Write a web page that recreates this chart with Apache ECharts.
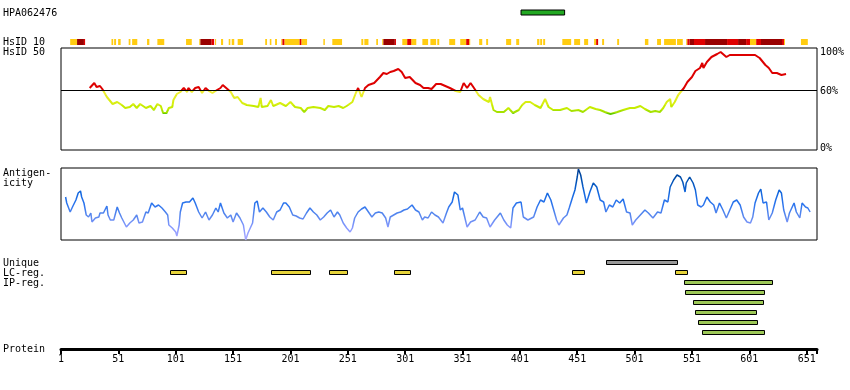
<!DOCTYPE html>
<html><head><meta charset="utf-8">
<script src="https://cdn.jsdelivr.net/npm/echarts@6/dist/echarts.min.js"></script>
<style>html,body{margin:0;padding:0;background:#fff}#c{width:850px;height:390px}</style>
</head><body><div id="c"></div>
<script>
// ---------------- data ----------------
const proteinStart = 1;
const proteinEnd = 660;
const tickLabels = [1, 51, 101, 151, 201, 251, 301, 351, 401, 451, 501, 551, 601, 651];

const antigenName = 'HPA062476';
const antigenRegion = [[402, 440]];

// HsID 10 band segments [start, end]
const hsid10Yellow = [[9,15],[45,46.5],[47.3,49],[50.8,53],[60,61.5],[63,67.5],[76,78],[85,91],[110,115],
  [121.5,122.5],[135.3,136.2],[140.5,142.3],[147.2,148.6],[149.8,152],[155,159.7],[179,180.6],[183,184.4],
  [187.6,189.3],[193,194],[195.7,209],[210.5,215.5],[229.7,231],[237.5,246],[262.8,264.5],[265.4,269],
  [275.8,277.3],[281,282],[298.5,302.8],[306.3,310.7],[316,321],[323,328],[329,330.7],[339.4,344.6],
  [349,354.2],[356.8,357.7],[365.5,368.2],[371.6,373.3],[389,393.4],[397.8,400.4],[416,418],[418.7,420.4],
  [421.3,423],[438,445.7],[448.3,453.5],[457,460.5],[465.7,467.5],[472.7,474.4],[485.8,487.5],[510,513],
  [520.6,524],[526.7,537],[538,543],[546,547],[601.6,607],[631.2,632],[646,652]];
const hsid10Red = [[21,22],[132,134.5],[194,195.7],[209,210.5],[292,293],[302.8,306.3],[354.2,356.8],
  [467.5,469.2],[547,549],[552.8,562.4],[581.6,591.2],[598.2,601.6],[607,611.2],[629.5,631.2]];
const hsid10DarkRed = [[15,21],[122.5,132],[282,292],[549,552.8],[562.4,581.6],[591.2,598.2],[611.2,629.5]];

// HsID 50 identity (%) by residue
const hsid50 = [[26,62],[30,67],[32,63],[35,64],[37,61],[41,53],[46,46],[50,48],[54,45],[57,42],[61,43],[64,46],
  [67,42],[70,46],[75,42],[79,44],[82,40],[85,46],[88,44],[90,37],[93,37],[95,42],[98,43],[99,50],[102,56],
  [105,58],[108,62],[111,58],[112,62],[115,58],[118,62],[121,63],[124,57],[127,62],[130,59],[133,57],[137,60],
  [140,62],[142,65],[145,62],[149,58],[152,52],[155,53],[159,47],[163,45],[169,44],[173,43],[175,52],[176,43],
  [181,44],[184,50],[186,44],[192,47],[197,44],[201,48],[205,43],[210,42],[213,38],[216,42],[221,43],[227,42],
  [231,40],[234,44],[239,43],[243,44],[247,42],[250,44],[255,48],[258,57],[260,62],[263,53],[266,62],[269,65],
  [274,67],[279,73],[282,77],[285,76],[288,78],[291,79],[295,81],[298,78],[301,72],[305,73],[310,67],[314,65],
  [317,62],[321,62],[324,61],[328,66],[332,66],[336,64],[340,62],[345,59],[349,58],[352,67],[355,62],[358,67],
  [361,62],[365,55],[369,51],[374,48],[375,53],[378,40],[381,38],[387,38],[391,42],[395,37],[400,40],[403,45],
  [406,48],[410,48],[414,45],[419,42],[423,51],[426,43],[430,40],[436,40],[442,42],[446,39],[452,40],[456,38],
  [462,43],[467,41],[471,40],[475,38],[480,36],[486,38],[491,40],[497,42],[501,42],[506,44],[510,41],[515,38],
  [519,39],[523,38],[526,42],[529,48],[532,51],[533,43],[536,48],[539,55],[544,62],[547,68],[551,73],[554,79],
  [558,82],[560,87],[561,82],[564,88],[568,93],[573,96],[576,98],[578,96],[581,93],[584,95],[590,95],[606,95],
  [610,92],[615,85],[618,82],[621,77],[625,77],[629,75],[633,76]];

// Antigenicity by residue
const antigenicity = [[5,43],[6,37],[9,28],[11,33],[14,40],[16,47],[18,49],[19,43],[21,37],[23,25],[25,23],[27,27],
  [28,18],[31,22],[34,23],[35,27],[38,27],[41,34],[42,25],[44,20],[47,20],[50,33],[52,27],[54,22],[58,13],[61,17],
  [64,20],[67,25],[69,17],[72,18],[75,28],[77,27],[80,37],[83,33],[86,35],[89,32],[92,28],[94,25],[95,15],[98,12],
  [101,8],[102,4],[104,15],[105,28],[107,37],[110,38],[113,38],[116,42],[118,37],[121,28],[124,22],[127,28],
  [130,20],[133,25],[136,32],[138,28],[140,37],[143,27],[146,22],[149,25],[151,18],[154,27],[157,22],[160,15],
  [162,0],[164,7],[166,12],[168,17],[170,37],[172,39],[174,28],[177,32],[180,28],[183,23],[186,20],[189,28],
  [192,30],[195,37],[197,37],[200,33],[203,25],[206,24],[209,22],[212,21],[215,27],[218,32],[221,28],[224,25],
  [227,20],[230,23],[233,27],[236,30],[239,23],[242,28],[244,25],[247,17],[250,12],[253,8],[255,12],[257,22],
  [260,28],[263,31],[266,33],[269,28],[272,23],[275,27],[278,28],[281,27],[284,22],[286,13],[288,23],[291,25],
  [294,27],[297,28],[300,30],[303,31],[307,35],[310,30],[313,28],[316,20],[318,23],[321,22],[324,28],[327,25],
  [330,23],[334,17],[337,27],[339,33],[342,38],[344,48],[347,45],[349,30],[351,32],[355,13],[358,18],[362,20],
  [366,28],[369,23],[372,22],[375,13],[379,20],[384,27],[387,20],[390,15],[393,12],[395,32],[398,37],[402,38],
  [404,23],[408,20],[413,23],[416,33],[419,40],[422,38],[425,47],[428,40],[430,32],[433,20],[435,15],[439,22],
  [442,25],[444,32],[447,43],[449,50],[451,63],[452,71],[454,65],[456,53],[459,37],[462,48],[465,57],[468,53],
  [471,40],[474,38],[476,28],[479,35],[482,33],[485,40],[488,37],[491,41],[494,28],[497,27],[499,15],[502,20],
  [506,25],[510,30],[513,27],[517,22],[521,28],[524,27],[527,40],[530,38],[532,53],[535,60],[538,65],[541,63],
  [543,58],[545,48],[546,57],[549,63],[552,57],[554,50],[556,35],[559,33],[561,35],[564,43],[567,38],[570,35],
  [572,27],[575,37],[578,30],[581,22],[584,30],[587,38],[590,40],[593,35],[596,23],[599,18],[602,17],[604,23],
  [606,37],[609,47],[611,51],[613,37],[616,38],[618,20],[621,27],[624,40],[627,50],[629,47],[631,30],[634,18],
  [636,27],[640,37],[642,28],[645,22],[647,37],[650,33],[652,32],[654,28]];

// Region tracks [start, end]
const uniqueRegions = [[476, 538]];
const lcRegions = [[96,110],[184,218],[235,250],[291,305],[446,457],[536,547]];
const ipRegions = [[544,621],[545,614],[552,613],[554,607],[556,608],[560,614]];

// ---------------- chart ----------------
const FONT = '10px "DejaVu Sans Mono", monospace';
const L = 61, W = 756;

function bandRender(stroke) {
  return function (params, api) {
    const a = api.coord([api.value(0), 1]);
    const b = api.coord([api.value(1), 0]);
    return { type: 'rect',
      shape: { x: a[0], y: a[1], width: Math.max(b[0] - a[0], 1), height: b[1] - a[1] },
      style: { fill: api.visual('color'), stroke: stroke || null, lineWidth: stroke ? 1 : 0 } };
  };
}
function trackRender(params, api) {
  const row = api.value(2);
  const a = api.coord([api.value(0), row]);
  const b = api.coord([api.value(1), row + 0.5]);
  const x0 = Math.round(a[0]) + 0.5, x1 = Math.round(b[0]) + 0.5;
  return { type: 'rect',
    shape: { x: x0, y: Math.round(a[1]) + 0.5, width: x1 - x0, height: Math.round(b[1] - a[1]) - 1 },
    style: { fill: api.visual('color'), stroke: '#000', lineWidth: 1 } };
}

const trackData = [];
const uniqueData = uniqueRegions.map(r => [r[0], r[1], 0]);
const lcData = lcRegions.map(r => [r[0], r[1], 1]);
const ipData = ipRegions.map((r, i) => [r[0], r[1], 2 + i]);

const xBase = { type: 'value', min: proteinStart, max: proteinEnd, show: false };

const grids = [
  { left: L, width: W, top: 10, height: 5 },        // 0 antigen bar
  { left: L, width: W, top: 39, height: 6 },        // 1 HsID 10 band
  { left: L, width: W, top: 48, height: 102, show: true, borderColor: '#000', borderWidth: 1 }, // 2 HsID 50
  { left: L, width: W, top: 168, height: 72, show: true, borderColor: '#000', borderWidth: 1 }, // 3 antigenicity
  { left: L, width: W, top: 260, height: 80 },      // 4 tracks
  { left: L, width: W, top: 340, height: 9 }        // 5 protein axis
];

const xAxes = [0,1,2,3,4].map(i => Object.assign({ gridIndex: i }, xBase));
xAxes.push({
  gridIndex: 5, type: 'value', min: proteinStart, max: proteinEnd, interval: 50,
  axisLine: { show: true, onZero: false, lineStyle: { color: '#000', width: 3 } },
  axisTick: { show: true, length: 5, lineStyle: { color: '#000', width: 2 } },
  splitLine: { show: false },
  axisLabel: { show: true, margin: 5, color: '#000', fontFamily: '"DejaVu Sans Mono", monospace', fontSize: 10,
    formatter: v => tickLabels.indexOf(v) >= 0 ? String(v) : '' }
});

const yAxes = [
  { gridIndex: 0, type: 'value', min: 0, max: 1, show: false },
  { gridIndex: 1, type: 'value', min: 0, max: 1, show: false },
  { gridIndex: 2, type: 'value', min: 0, max: 102, show: false },
  { gridIndex: 3, type: 'value', min: 0, max: 72, show: false },
  { gridIndex: 4, type: 'value', min: 0, max: 8, inverse: true, show: false },
  { gridIndex: 5, type: 'value', min: 0, max: 1, show: false }
];

function txt(t, x, y) {
  return { type: 'text', x: x, y: y, silent: true,
    style: { text: t, font: FONT, fill: '#000', verticalAlign: 'middle', align: 'left' } };
}

const option = {
  animation: false,
  backgroundColor: '#fff',
  grid: grids,
  xAxis: xAxes,
  yAxis: yAxes,
  visualMap: [
    { type: 'piecewise', show: false, seriesIndex: 4, dimension: 1,
      pieces: [
        { gt: 60, color: '#dd0000' },
        { gt: 55, lte: 60, color: '#eeee33' },
        { gt: 50, lte: 55, color: '#e4ee22' },
        { gt: 45, lte: 50, color: '#d8ee11' },
        { gt: 40, lte: 45, color: '#c6ec00' },
        { gt: 37, lte: 40, color: '#a6e200' },
        { lte: 37, color: '#66cc00' }
      ] },
    { type: 'continuous', show: false, seriesIndex: 5, dimension: 1, min: 0, max: 72,
      inRange: { color: ['#aaaaff', '#8899ff', '#5a88ee', '#2a74ee', '#1166dd', '#0050b0', '#003c90'] } }
  ],
  series: [
    { type: 'custom', xAxisIndex: 0, yAxisIndex: 0, data: antigenRegion, renderItem: bandRender('#000'),
      itemStyle: { color: '#22a822' }, silent: true },
    { type: 'custom', xAxisIndex: 1, yAxisIndex: 1, data: hsid10Yellow, renderItem: bandRender(),
      itemStyle: { color: '#ffcc11' }, silent: true },
    { type: 'custom', xAxisIndex: 1, yAxisIndex: 1, data: hsid10Red, renderItem: bandRender(),
      itemStyle: { color: '#e00000' }, silent: true },
    { type: 'custom', xAxisIndex: 1, yAxisIndex: 1, data: hsid10DarkRed, renderItem: bandRender(),
      itemStyle: { color: '#990000' }, silent: true },
    { type: 'line', xAxisIndex: 2, yAxisIndex: 2, data: hsid50, showSymbol: false, symbol: 'none',
      lineStyle: { width: 2 }, silent: true,
      markLine: { silent: true, symbol: 'none', label: { show: false },
        lineStyle: { color: '#000', width: 1, type: 'solid' }, data: [{ yAxis: 60 }] } },
    { type: 'line', xAxisIndex: 3, yAxisIndex: 3, data: antigenicity, showSymbol: false, symbol: 'none',
      lineStyle: { width: 1.5 }, silent: true },
    { type: 'custom', xAxisIndex: 4, yAxisIndex: 4, data: uniqueData, renderItem: trackRender,
      itemStyle: { color: '#999999' }, silent: true },
    { type: 'custom', xAxisIndex: 4, yAxisIndex: 4, data: lcData, renderItem: trackRender,
      itemStyle: { color: '#e6d33a' }, silent: true },
    { type: 'custom', xAxisIndex: 4, yAxisIndex: 4, data: ipData, renderItem: trackRender,
      itemStyle: { color: '#9dc857' }, silent: true }
  ],
  graphic: [
    txt(antigenName, 3, 13),
    txt('HsID 10', 3, 42),
    txt('HsID 50', 3, 52),
    txt('Antigen-', 3, 173),
    txt('icity', 3, 183),
    txt('Unique', 3, 263),
    txt('LC-reg.', 3, 273),
    txt('IP-reg.', 3, 283),
    txt('Protein', 3, 349),
    txt('100%', 820, 52),
    txt('60%', 820, 91),
    txt('0%', 820, 148)
  ]
};

const chart = echarts.init(document.getElementById('c'), null, { renderer: 'canvas' });
chart.setOption(option);
</script>
</body></html>
